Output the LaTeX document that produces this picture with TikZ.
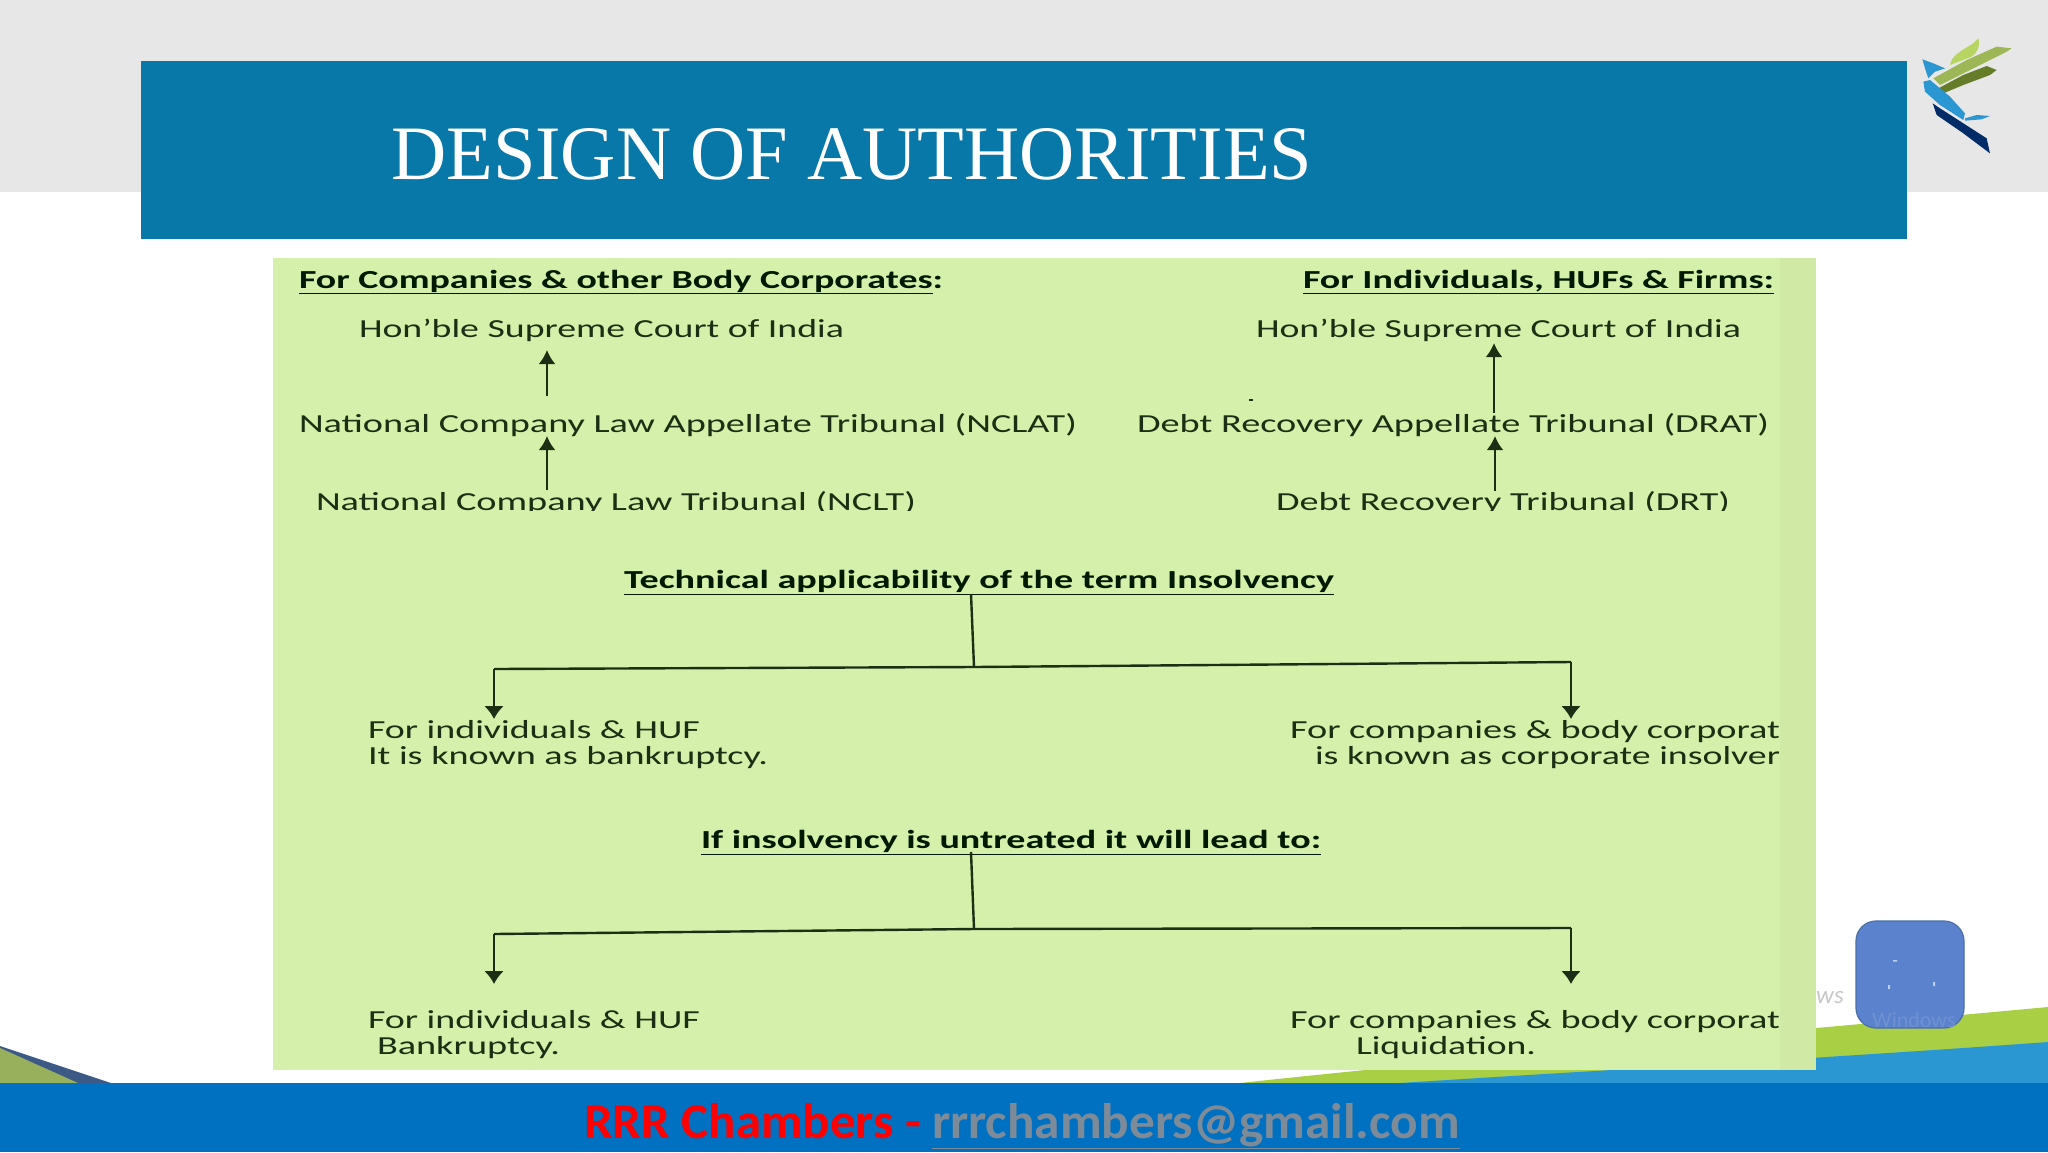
\documentclass[tikz,border=0pt]{standalone}
\usepackage{fontspec}
\usepackage{graphicx}
\setmainfont{Carlito}
\newfontfamily\titlefont{Liberation Serif}
\usetikzlibrary{arrows.meta}
\definecolor{topgrey}{HTML}{E8E7E8}
\definecolor{titlebar}{HTML}{0878A8}
\definecolor{footbar}{HTML}{0070C0}
\definecolor{panelgreen}{HTML}{D5F0AA}
\definecolor{stripgreen}{HTML}{D0EAA6}
\definecolor{inkgreen}{HTML}{1C2F14}
\definecolor{swgreen}{HTML}{A9CF45}
\definecolor{swblue}{HTML}{2A96D2}
\definecolor{squareblue}{HTML}{5B82CC}
\definecolor{squareedge}{HTML}{4C6FA8}
\definecolor{mailgrey}{HTML}{7D8B98}
\newcommand{\fitw}[2]{\resizebox{#1pt}{\height}{#2}}
\tikzset{
  txt/.style={anchor=base west,inner sep=0pt,outer sep=0pt,text=inkgreen,font=\fontsize{26}{30}\selectfont},
  hd/.style={anchor=base west,inner sep=0pt,outer sep=0pt,text=black!90!green,font=\fontsize{26}{30}\selectfont\bfseries},
  foot/.style={anchor=base west,inner sep=0pt,outer sep=0pt,font=\fontsize{50}{54}\selectfont\bfseries},
  upar/.style={draw=inkgreen,line width=2.6pt,-{Latex[length=14pt,width=17pt]}},
  tree/.style={draw=inkgreen,line width=2.4pt,line join=miter},
  treear/.style={tree,-{Latex[length=13pt,width=20pt]}},
}
\begin{document}
\begin{tikzpicture}[x=1pt,y=-1pt]
\useasboundingbox (0,0) rectangle (2048,1152);
\fill[white] (0,0) rectangle (2048,1152);
\fill[topgrey] (0,0) rectangle (2048,192);
% bottom swooshes
\fill[swgreen] (1240,1083) .. controls (1500,1055) and (1800,1030) .. (2048,1007) -- (2048,1083) -- cycle;
\fill[swblue] (1400,1083) .. controls (1600,1070) and (1800,1060) .. (2048,1042) -- (2048,1083) -- cycle;
\fill[squareedge!80!black] (0,1046) -- (111,1083) -- (0,1083) -- cycle;
\fill[swgreen!60!gray] (0,1048) -- (78,1083) -- (0,1083) -- cycle;
\fill[footbar] (0,1083) rectangle (2048,1152);
% title bar
\fill[titlebar] (141,61) rectangle (1907,239);
\node[anchor=base west,inner sep=0pt,text=white,font=\titlefont\fontsize{77}{80}\selectfont] (title) at (391,179) {\fitw{921}{DESIGN OF AUTHORITIES}};
% logo
\begin{scope}[shift={(1850,0)},x=0.3333pt,y=-0.3333pt]
\fill[swgreen!85!white] (300,195) .. controls (305,170) and (320,160) .. (370,130) -- (385,115) .. controls (392,140) and (380,160) .. (365,170) -- cycle;
\fill[swgreen!70!gray] (250,235) -- (350,180) -- (440,140) -- (485,145) -- (470,155) -- (360,210) -- (270,255) -- cycle;
\fill[swgreen!60!black] (265,265) -- (340,225) -- (410,198) -- (440,210) -- (420,225) -- (340,255) -- (280,280) -- cycle;
\fill[swblue] (217,178) -- (250,190) -- (285,205) -- (255,215) -- (235,235) -- (225,205) -- cycle;
\fill[swblue] (220,245) -- (240,240) -- (300,290) -- (345,340) -- (340,360) -- (270,315) -- (225,275) -- cycle;
\fill[swblue] (345,355) -- (380,345) -- (420,348) -- (395,358) -- (345,362) -- cycle;
\fill[footbar!45!black!90!blue] (248,310) -- (270,325) -- (410,415) -- (420,460) -- (340,400) -- (260,345) -- cycle;
\end{scope}
% faint watermark and floating square
\node[anchor=base west,inner sep=0pt,text=black!22,font=\fontsize{25}{26}\selectfont\itshape] (wm) at (1816,1003) {ws};
\draw[fill=squareblue,draw=squareedge,line width=1.2pt,rounded corners=20pt] (1856,921) rectangle (1964,1028);
\node[anchor=base west,inner sep=0pt,text=squareblue!88!white,font=\fontsize{22}{24}\selectfont] (wm2) at (1872,1027) {Windows};
\fill[squareblue!40!white] (1893,960) rectangle (1897,961.5) (1888,985) rectangle (1890,989) (1933,982) rectangle (1935,986);
% panel
\fill[panelgreen] (273,258) rectangle (1816,1070);
\fill[stripgreen] (1780,258) rectangle (1816,1070);
% left column
\node[hd] (hl) at (299,288) {\fitw{644}{\underline{For Companies \& other Body Corporates}:}};
\node[txt] (sl) at (359,337) {\fitw{485}{Hon’ble Supreme Court of India}};
\node[txt] (nclat) at (299,432.5) {\fitw{778}{National Company Law Appellate Tribunal (NCLAT)}};
\node[txt] (nclt) at (316,510) {\fitw{600}{National Company Law Tribunal (NCLT)}};
% right column
\node[hd] (hr) at (1303,288) {\fitw{471}{\underline{For Individuals, HUFs \& Firms:}}};
\node[txt] (sr) at (1256,337) {\fitw{485}{Hon’ble Supreme Court of India}};
\node[txt] (drat) at (1137,432.5) {\fitw{632}{Debt Recovery Appellate Tribunal (DRAT)}};
\node[txt] (drt) at (1276,510) {\fitw{454}{Debt Recovery Tribunal (DRT)}};
% clipped descenders of the bottom lines
\fill[panelgreen] (310,511) rectangle (1760,522);
\fill[inkgreen] (1249,398.5) rectangle (1253,400.5);
% arrows upper
\coordinate (a1s) at (547,396); \coordinate (a1e) at (547,350);
\coordinate (a2s) at (547,490); \coordinate (a2e) at (547,436);
\coordinate (a3s) at (1494,413); \coordinate (a3e) at (1494,343);
\coordinate (a4s) at (1495,491); \coordinate (a4e) at (1495,436);
\draw[upar] (a1s) -- (a1e);
\draw[upar] (a2s) -- (a2e);
\draw[upar] (a3s) -- (a3e);
\draw[upar] (a4s) -- (a4e);
% tree 1
\node[hd] (t1) at (624,588.5) {\fitw{710}{\underline{Technical applicability of the term Insolvency}}};
\coordinate (t1s) at (971,594); \coordinate (t1j) at (974,667);
\coordinate (t1l) at (494,669); \coordinate (t1r) at (1571,662);
\coordinate (t1la) at (494,719); \coordinate (t1ra) at (1571,719);
\draw[tree] (t1s) -- (t1j);
\draw[treear] (t1l) -- (t1la);
\draw[treear] (t1r) -- (t1ra);
\draw[tree] (t1l) -- (t1j) -- (t1r);
\node[txt] (ti1) at (368,738) {\fitw{332}{For individuals \& HUF}};
\node[txt] (ti2) at (368,764.5) {\fitw{400}{It is known as bankruptcy.}};
\node[txt] (tc1) at (1290,738) {\fitw{490}{For companies \& body corporat}};
\node[txt] (tc2) at (1315,764.5) {\fitw{465}{is known as corporate insolver}};
% tree 2
\node[hd] (t2) at (701,848.5) {\fitw{620}{\underline{If insolvency is untreated it will lead to:}}};
\coordinate (t2s) at (971,852); \coordinate (t2j) at (974,929);
\coordinate (t2l) at (494,934); \coordinate (t2r) at (1571,928);
\coordinate (t2la) at (494,984); \coordinate (t2ra) at (1571,984);
\draw[tree] (t2s) -- (t2j);
\draw[treear] (t2l) -- (t2la);
\draw[treear] (t2r) -- (t2ra);
\draw[tree] (t2l) -- (t2j) -- (t2r);
\node[txt] (bi1) at (368,1028.5) {\fitw{332}{For individuals \& HUF}};
\node[txt] (bi2) at (377,1054.5) {\fitw{183}{Bankruptcy.}};
\node[txt] (bc1) at (1290,1028.5) {\fitw{490}{For companies \& body corporat}};
\node[txt] (bc2) at (1356,1054.5) {\fitw{180}{Liquidation.}};
% footer
\node[foot,text=red] (fr) at (584,1138) {\fitw{337}{RRR Chambers -}};
\node[foot,text=mailgrey] (fm) at (932,1138) {\fitw{528}{\underline{rrrchambers@gmail.com}}};
\end{tikzpicture}
\end{document}
